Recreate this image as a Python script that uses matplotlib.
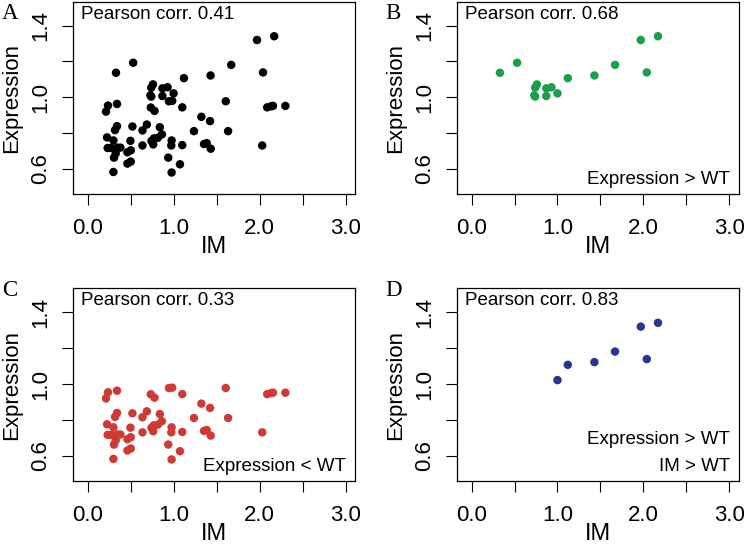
import matplotlib
matplotlib.use('Agg')
import matplotlib.pyplot as plt

plt.rcParams['font.family'] = ['Liberation Sans', 'DejaVu Sans']

# genes with expression above wild type (panel B)
up_im = [0.33, 0.53, 0.74, 0.76, 0.73, 0.74, 0.87, 0.93, 0.87, 1.00,
         1.12, 1.43, 1.67, 1.97, 2.17, 2.04]
up_expr = [1.137, 1.193, 1.054, 1.072, 1.011, 1.004, 1.050, 1.056, 1.007, 1.022,
           1.107, 1.122, 1.181, 1.320, 1.341, 1.139]

# genes with expression below wild type (panel C)
down_im = [0.214, 0.237, 0.342, 0.226, 0.233, 0.276, 0.30, 0.30, 0.307, 0.327,
           0.319, 0.342, 0.346, 0.381, 0.463, 0.498, 0.502, 0.463, 0.502, 0.521,
           0.638, 0.638, 0.689, 0.735, 0.778, 0.743, 0.763, 0.770, 0.817, 0.840,
           0.864, 0.938, 0.946, 0.984, 0.977, 0.973, 0.977, 1.074, 1.101, 1.101,
           1.237, 1.323, 1.354, 1.385, 1.424, 1.432, 1.607, 1.634, 2.031, 2.089,
           2.136, 2.156, 2.300]
down_expr = [0.920, 0.954, 0.963, 0.776, 0.717, 0.717, 0.759, 0.583, 0.663, 0.687,
             0.817, 0.839, 0.719, 0.719, 0.693, 0.757, 0.704, 0.630, 0.641, 0.837,
             0.815, 0.731, 0.848, 0.943, 0.924, 0.756, 0.737, 0.770, 0.774, 0.833,
             0.793, 0.663, 0.978, 0.980, 0.759, 0.731, 0.580, 0.626, 0.944, 0.733,
             0.811, 0.891, 0.739, 0.744, 0.867, 0.713, 0.978, 0.811, 0.731, 0.944,
             0.950, 0.952, 0.952]

# expression > WT and IM > WT (panel D)
both_im = [1.00, 1.12, 1.43, 1.67, 1.97, 2.17, 2.04]
both_expr = [1.022, 1.107, 1.122, 1.181, 1.320, 1.341, 1.139]

all_im = up_im + down_im
all_expr = up_expr + down_expr

panels = [
    ('A', all_im, all_expr, 'black', '0.41', []),
    ('B', up_im, up_expr, '#1a9f4a', '0.68', ['Expression > WT']),
    ('C', down_im, down_expr, '#cf3a36', '0.33', ['Expression < WT']),
    ('D', both_im, both_expr, '#2b3490', '0.83', ['Expression > WT', 'IM > WT']),
]

W, H = 744, 549
fig = plt.figure(figsize=(W / 100, H / 100), dpi=100)

# axes boxes in pixels: left, top, right, bottom
boxes = [(73, 1.5, 355, 194), (457, 1.5, 738.7, 194),
         (73, 288, 355, 481), (457, 288, 738.7, 481)]
letter_pos = [(2, 19), (385, 19), (2, 296), (385, 296)]

for (letter, xs, ys, col, corr, notes), box, lp in zip(panels, boxes, letter_pos):
    l, t, r, b = box
    ax = fig.add_axes([l / W, 1 - b / H, (r - l) / W, (b - t) / H])
    ax.scatter(xs, ys, s=37, color=col, edgecolors='none', zorder=3)
    ax.set_xlim(-0.17, 3.11)
    ax.set_ylim(0.46, 1.535)
    ax.set_xticks([0, 0.5, 1, 1.5, 2, 2.5, 3])
    ax.set_xticklabels(['0.0', '', '1.0', '', '2.0', '', '3.0'])
    ax.set_yticks([0.6, 0.8, 1.0, 1.2, 1.4])
    ax.set_yticklabels(['0.6', '', '1.0', '', '1.4'])
    ax.tick_params(axis='both', labelsize=16, length=8, width=0.8, colors='black')
    ax.tick_params(axis='x', pad=9)
    ax.tick_params(axis='y', pad=8, labelrotation=90)
    for lab in ax.get_yticklabels():
        lab.set_va('center')
    for sp in ax.spines.values():
        sp.set_linewidth(0.9)
    ax.set_xlabel('IM', fontsize=17)
    ax.set_ylabel('Expression', fontsize=16)
    ax.xaxis.set_label_coords(0.5, -0.218)
    ax.yaxis.set_label_coords(-0.181, 0.5)

    ax.annotate('Pearson corr. ' + corr, xy=(0, 1), xycoords='axes fraction',
                xytext=(6, -3), textcoords='offset points',
                ha='left', va='top', fontsize=13.5)
    for i, note in enumerate(reversed(notes)):
        ax.annotate(note, xy=(1, 0), xycoords='axes fraction',
                    xytext=(-6.3, 7.2 + i * 19.2), textcoords='offset points',
                    ha='right', va='baseline', fontsize=13.5)

    fig.text(lp[0] / W, 1 - lp[1] / H, letter, ha='left', va='baseline',
             fontsize=16.5, family=['Liberation Serif', 'DejaVu Serif'])

fig.savefig('out.png', dpi=100)
